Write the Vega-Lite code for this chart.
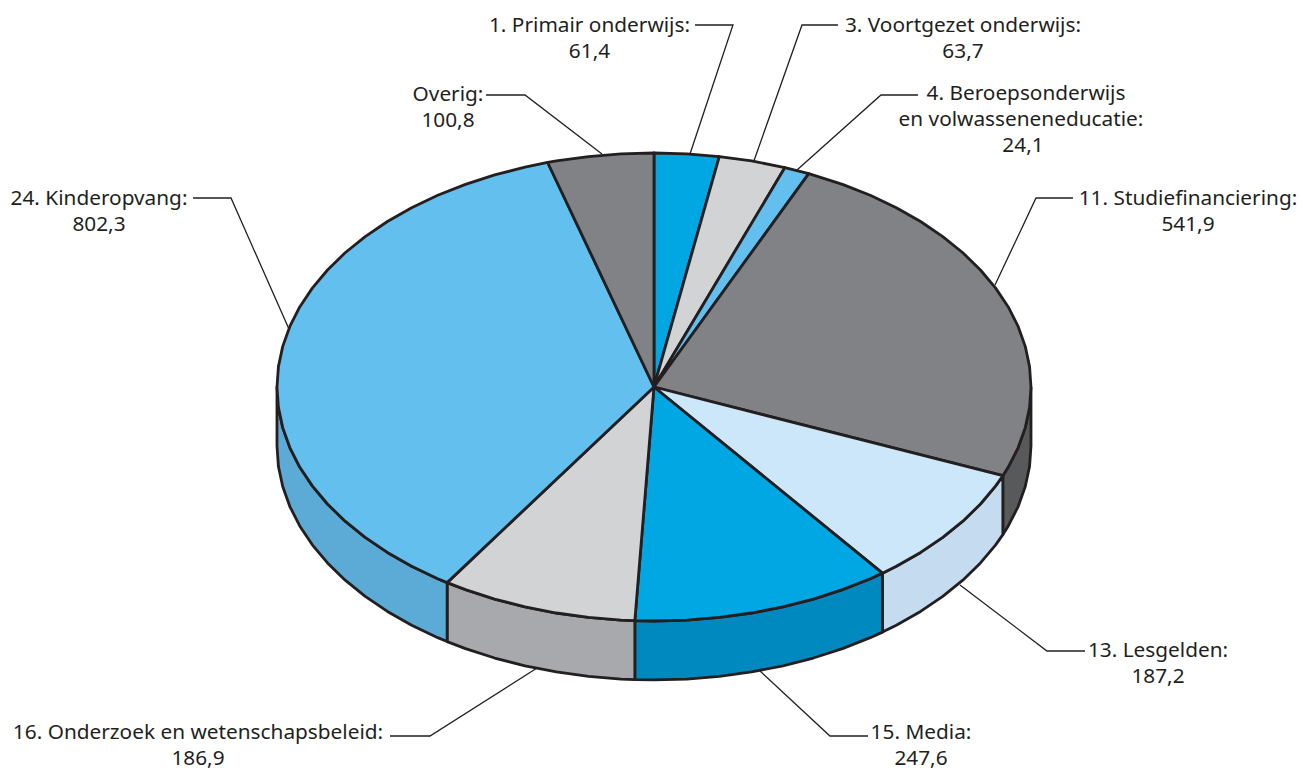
{"$schema":"https://vega.github.io/schema/vega-lite/v6.json","width":1303,"height":770,"padding":0,"autosize":{"type":"fit","contains":"padding"},"background":"#ffffff","config":{"view":{"stroke":null}},
"datasets":{"faces":[
{"poly":"side 11","seq":0,"x":100,"y":0},{"poly":"side 11","seq":1,"x":99.62,"y":-8.72},{"poly":"side 11","seq":2,"x":98.48,"y":-17.36},{"poly":"side 11","seq":3,"x":96.59,"y":-25.88},{"poly":"side 11","seq":4,"x":93.97,"y":-34.2},{"poly":"side 11","seq":5,"x":92.53,"y":-37.91},{"poly":"side 11","seq":6,"x":92.53,"y":-63.11},{"poly":"side 11","seq":7,"x":93.97,"y":-59.4},{"poly":"side 11","seq":8,"x":96.59,"y":-51.08},{"poly":"side 11","seq":9,"x":98.48,"y":-42.56},{"poly":"side 11","seq":10,"x":99.62,"y":-33.92},{"poly":"side 11","seq":11,"x":100,"y":-25.2},{"poly":"side 11","seq":12,"x":100,"y":0},
{"poly":"side 13","seq":0,"x":92.53,"y":-37.91},{"poly":"side 13","seq":1,"x":90.63,"y":-42.26},{"poly":"side 13","seq":2,"x":86.6,"y":-50},{"poly":"side 13","seq":3,"x":81.92,"y":-57.36},{"poly":"side 13","seq":4,"x":76.6,"y":-64.28},{"poly":"side 13","seq":5,"x":70.71,"y":-70.71},{"poly":"side 13","seq":6,"x":64.28,"y":-76.6},{"poly":"side 13","seq":7,"x":60.6,"y":-79.55},{"poly":"side 13","seq":8,"x":60.6,"y":-104.75},{"poly":"side 13","seq":9,"x":64.28,"y":-101.8},{"poly":"side 13","seq":10,"x":70.71,"y":-95.91},{"poly":"side 13","seq":11,"x":76.6,"y":-89.48},{"poly":"side 13","seq":12,"x":81.92,"y":-82.56},{"poly":"side 13","seq":13,"x":86.6,"y":-75.2},{"poly":"side 13","seq":14,"x":90.63,"y":-67.46},{"poly":"side 13","seq":15,"x":92.53,"y":-63.11},{"poly":"side 13","seq":16,"x":92.53,"y":-37.91},
{"poly":"side 15","seq":0,"x":60.6,"y":-79.55},{"poly":"side 15","seq":1,"x":57.36,"y":-81.92},{"poly":"side 15","seq":2,"x":50,"y":-86.6},{"poly":"side 15","seq":3,"x":42.26,"y":-90.63},{"poly":"side 15","seq":4,"x":34.2,"y":-93.97},{"poly":"side 15","seq":5,"x":25.88,"y":-96.59},{"poly":"side 15","seq":6,"x":17.36,"y":-98.48},{"poly":"side 15","seq":7,"x":8.72,"y":-99.62},{"poly":"side 15","seq":8,"x":0,"y":-100},{"poly":"side 15","seq":9,"x":-5.08,"y":-99.87},{"poly":"side 15","seq":10,"x":-5.08,"y":-125.07},{"poly":"side 15","seq":11,"x":0,"y":-125.2},{"poly":"side 15","seq":12,"x":8.72,"y":-124.82},{"poly":"side 15","seq":13,"x":17.36,"y":-123.68},{"poly":"side 15","seq":14,"x":25.88,"y":-121.79},{"poly":"side 15","seq":15,"x":34.2,"y":-119.17},{"poly":"side 15","seq":16,"x":42.26,"y":-115.83},{"poly":"side 15","seq":17,"x":50,"y":-111.8},{"poly":"side 15","seq":18,"x":57.36,"y":-107.12},{"poly":"side 15","seq":19,"x":60.6,"y":-104.75},{"poly":"side 15","seq":20,"x":60.6,"y":-79.55},
{"poly":"side 16","seq":0,"x":-5.08,"y":-99.87},{"poly":"side 16","seq":1,"x":-8.72,"y":-99.62},{"poly":"side 16","seq":2,"x":-17.36,"y":-98.48},{"poly":"side 16","seq":3,"x":-25.88,"y":-96.59},{"poly":"side 16","seq":4,"x":-34.2,"y":-93.97},{"poly":"side 16","seq":5,"x":-42.26,"y":-90.63},{"poly":"side 16","seq":6,"x":-50,"y":-86.6},{"poly":"side 16","seq":7,"x":-54.87,"y":-83.6},{"poly":"side 16","seq":8,"x":-54.87,"y":-108.8},{"poly":"side 16","seq":9,"x":-50,"y":-111.8},{"poly":"side 16","seq":10,"x":-42.26,"y":-115.83},{"poly":"side 16","seq":11,"x":-34.2,"y":-119.17},{"poly":"side 16","seq":12,"x":-25.88,"y":-121.79},{"poly":"side 16","seq":13,"x":-17.36,"y":-123.68},{"poly":"side 16","seq":14,"x":-8.72,"y":-124.82},{"poly":"side 16","seq":15,"x":-5.08,"y":-125.07},{"poly":"side 16","seq":16,"x":-5.08,"y":-99.87},
{"poly":"side 24","seq":0,"x":-54.87,"y":-83.6},{"poly":"side 24","seq":1,"x":-57.36,"y":-81.92},{"poly":"side 24","seq":2,"x":-64.28,"y":-76.6},{"poly":"side 24","seq":3,"x":-70.71,"y":-70.71},{"poly":"side 24","seq":4,"x":-76.6,"y":-64.28},{"poly":"side 24","seq":5,"x":-81.92,"y":-57.36},{"poly":"side 24","seq":6,"x":-86.6,"y":-50},{"poly":"side 24","seq":7,"x":-90.63,"y":-42.26},{"poly":"side 24","seq":8,"x":-93.97,"y":-34.2},{"poly":"side 24","seq":9,"x":-96.59,"y":-25.88},{"poly":"side 24","seq":10,"x":-98.48,"y":-17.36},{"poly":"side 24","seq":11,"x":-99.62,"y":-8.72},{"poly":"side 24","seq":12,"x":-100,"y":0},{"poly":"side 24","seq":13,"x":-100,"y":-25.2},{"poly":"side 24","seq":14,"x":-99.62,"y":-33.92},{"poly":"side 24","seq":15,"x":-98.48,"y":-42.56},{"poly":"side 24","seq":16,"x":-96.59,"y":-51.08},{"poly":"side 24","seq":17,"x":-93.97,"y":-59.4},{"poly":"side 24","seq":18,"x":-90.63,"y":-67.46},{"poly":"side 24","seq":19,"x":-86.6,"y":-75.2},{"poly":"side 24","seq":20,"x":-81.92,"y":-82.56},{"poly":"side 24","seq":21,"x":-76.6,"y":-89.48},{"poly":"side 24","seq":22,"x":-70.71,"y":-95.91},{"poly":"side 24","seq":23,"x":-64.28,"y":-101.8},{"poly":"side 24","seq":24,"x":-57.36,"y":-107.12},{"poly":"side 24","seq":25,"x":-54.87,"y":-108.8},{"poly":"side 24","seq":26,"x":-54.87,"y":-83.6},
{"poly":"top 1","seq":0,"x":0,"y":0},{"poly":"top 1","seq":1,"x":0,"y":100},{"poly":"top 1","seq":2,"x":8.72,"y":99.62},{"poly":"top 1","seq":3,"x":17.32,"y":98.49},{"poly":"top 1","seq":4,"x":0,"y":0},
{"poly":"top 3","seq":0,"x":0,"y":0},{"poly":"top 3","seq":1,"x":17.32,"y":98.49},{"poly":"top 3","seq":2,"x":25.88,"y":96.59},{"poly":"top 3","seq":3,"x":34.73,"y":93.78},{"poly":"top 3","seq":4,"x":0,"y":0},
{"poly":"top 4","seq":0,"x":0,"y":0},{"poly":"top 4","seq":1,"x":34.73,"y":93.78},{"poly":"top 4","seq":2,"x":41.05,"y":91.18},{"poly":"top 4","seq":3,"x":0,"y":0},
{"poly":"top 11","seq":0,"x":0,"y":0},{"poly":"top 11","seq":1,"x":41.05,"y":91.18},{"poly":"top 11","seq":2,"x":50,"y":86.6},{"poly":"top 11","seq":3,"x":57.36,"y":81.92},{"poly":"top 11","seq":4,"x":64.28,"y":76.6},{"poly":"top 11","seq":5,"x":70.71,"y":70.71},{"poly":"top 11","seq":6,"x":76.6,"y":64.28},{"poly":"top 11","seq":7,"x":81.92,"y":57.36},{"poly":"top 11","seq":8,"x":86.6,"y":50},{"poly":"top 11","seq":9,"x":90.63,"y":42.26},{"poly":"top 11","seq":10,"x":93.97,"y":34.2},{"poly":"top 11","seq":11,"x":96.59,"y":25.88},{"poly":"top 11","seq":12,"x":98.48,"y":17.36},{"poly":"top 11","seq":13,"x":99.62,"y":8.72},{"poly":"top 11","seq":14,"x":100,"y":0},{"poly":"top 11","seq":15,"x":99.62,"y":-8.72},{"poly":"top 11","seq":16,"x":98.48,"y":-17.36},{"poly":"top 11","seq":17,"x":96.59,"y":-25.88},{"poly":"top 11","seq":18,"x":93.97,"y":-34.2},{"poly":"top 11","seq":19,"x":92.53,"y":-37.91},{"poly":"top 11","seq":20,"x":0,"y":0},
{"poly":"top 13","seq":0,"x":0,"y":0},{"poly":"top 13","seq":1,"x":92.53,"y":-37.91},{"poly":"top 13","seq":2,"x":90.63,"y":-42.26},{"poly":"top 13","seq":3,"x":86.6,"y":-50},{"poly":"top 13","seq":4,"x":81.92,"y":-57.36},{"poly":"top 13","seq":5,"x":76.6,"y":-64.28},{"poly":"top 13","seq":6,"x":70.71,"y":-70.71},{"poly":"top 13","seq":7,"x":64.28,"y":-76.6},{"poly":"top 13","seq":8,"x":60.6,"y":-79.55},{"poly":"top 13","seq":9,"x":0,"y":0},
{"poly":"top 15","seq":0,"x":0,"y":0},{"poly":"top 15","seq":1,"x":60.6,"y":-79.55},{"poly":"top 15","seq":2,"x":57.36,"y":-81.92},{"poly":"top 15","seq":3,"x":50,"y":-86.6},{"poly":"top 15","seq":4,"x":42.26,"y":-90.63},{"poly":"top 15","seq":5,"x":34.2,"y":-93.97},{"poly":"top 15","seq":6,"x":25.88,"y":-96.59},{"poly":"top 15","seq":7,"x":17.36,"y":-98.48},{"poly":"top 15","seq":8,"x":8.72,"y":-99.62},{"poly":"top 15","seq":9,"x":0,"y":-100},{"poly":"top 15","seq":10,"x":-5.08,"y":-99.87},{"poly":"top 15","seq":11,"x":0,"y":0},
{"poly":"top 16","seq":0,"x":0,"y":0},{"poly":"top 16","seq":1,"x":-5.08,"y":-99.87},{"poly":"top 16","seq":2,"x":-8.72,"y":-99.62},{"poly":"top 16","seq":3,"x":-17.36,"y":-98.48},{"poly":"top 16","seq":4,"x":-25.88,"y":-96.59},{"poly":"top 16","seq":5,"x":-34.2,"y":-93.97},{"poly":"top 16","seq":6,"x":-42.26,"y":-90.63},{"poly":"top 16","seq":7,"x":-50,"y":-86.6},{"poly":"top 16","seq":8,"x":-54.87,"y":-83.6},{"poly":"top 16","seq":9,"x":0,"y":0},
{"poly":"top 24","seq":0,"x":0,"y":0},{"poly":"top 24","seq":1,"x":-54.87,"y":-83.6},{"poly":"top 24","seq":2,"x":-57.36,"y":-81.92},{"poly":"top 24","seq":3,"x":-64.28,"y":-76.6},{"poly":"top 24","seq":4,"x":-70.71,"y":-70.71},{"poly":"top 24","seq":5,"x":-76.6,"y":-64.28},{"poly":"top 24","seq":6,"x":-81.92,"y":-57.36},{"poly":"top 24","seq":7,"x":-86.6,"y":-50},{"poly":"top 24","seq":8,"x":-90.63,"y":-42.26},{"poly":"top 24","seq":9,"x":-93.97,"y":-34.2},{"poly":"top 24","seq":10,"x":-96.59,"y":-25.88},{"poly":"top 24","seq":11,"x":-98.48,"y":-17.36},{"poly":"top 24","seq":12,"x":-99.62,"y":-8.72},{"poly":"top 24","seq":13,"x":-100,"y":0},{"poly":"top 24","seq":14,"x":-99.62,"y":8.72},{"poly":"top 24","seq":15,"x":-98.48,"y":17.36},{"poly":"top 24","seq":16,"x":-96.59,"y":25.88},{"poly":"top 24","seq":17,"x":-93.97,"y":34.2},{"poly":"top 24","seq":18,"x":-90.63,"y":42.26},{"poly":"top 24","seq":19,"x":-86.6,"y":50},{"poly":"top 24","seq":20,"x":-81.92,"y":57.36},{"poly":"top 24","seq":21,"x":-76.6,"y":64.28},{"poly":"top 24","seq":22,"x":-70.71,"y":70.71},{"poly":"top 24","seq":23,"x":-64.28,"y":76.6},{"poly":"top 24","seq":24,"x":-57.36,"y":81.92},{"poly":"top 24","seq":25,"x":-50,"y":86.6},{"poly":"top 24","seq":26,"x":-42.26,"y":90.63},{"poly":"top 24","seq":27,"x":-34.2,"y":93.97},{"poly":"top 24","seq":28,"x":-28.2,"y":95.94},{"poly":"top 24","seq":29,"x":0,"y":0},
{"poly":"top overig","seq":0,"x":0,"y":0},{"poly":"top overig","seq":1,"x":-28.2,"y":95.94},{"poly":"top overig","seq":2,"x":-25.88,"y":96.59},{"poly":"top overig","seq":3,"x":-17.36,"y":98.48},{"poly":"top overig","seq":4,"x":-8.72,"y":99.62},{"poly":"top overig","seq":5,"x":0,"y":100},{"poly":"top overig","seq":6,"x":0,"y":0}
],
"leaders":[
{"id":"1","seq":0,"x":10.88,"y":154.7},{"id":"1","seq":1,"x":20.95,"y":154.7},{"id":"1","seq":2,"x":9.55,"y":99.57},
{"id":"3","seq":0,"x":48.81,"y":154.7},{"id":"3","seq":1,"x":39.26,"y":154.7},{"id":"3","seq":2,"x":26.5,"y":96.6},
{"id":"4","seq":0,"x":70.03,"y":124.79},{"id":"4","seq":1,"x":60.21,"y":124.79},{"id":"4","seq":2,"x":37.93,"y":92.74},
{"id":"11","seq":0,"x":111.14,"y":80.77},{"id":"11","seq":1,"x":101.33,"y":80.77},{"id":"11","seq":2,"x":90.45,"y":43.59},
{"id":"13","seq":0,"x":114.32,"y":-112.82},{"id":"13","seq":1,"x":104.24,"y":-112.82},{"id":"13","seq":2,"x":81.17,"y":-84.62},
{"id":"15","seq":0,"x":56.76,"y":-149.15},{"id":"15","seq":1,"x":46.68,"y":-149.15},{"id":"15","seq":2,"x":28.12,"y":-121.37},
{"id":"16","seq":0,"x":-70.03,"y":-149.15},{"id":"16","seq":1,"x":-59.42,"y":-149.15},{"id":"16","seq":2,"x":-31.03,"y":-120.09},
{"id":"24","seq":0,"x":-122.28,"y":80.77},{"id":"24","seq":1,"x":-112.2,"y":80.77},{"id":"24","seq":2,"x":-96.82,"y":24.79},
{"id":"overig","seq":0,"x":-44.56,"y":124.79},{"id":"overig","seq":1,"x":-34.22,"y":124.79},{"id":"overig","seq":2,"x":-13.79,"y":99.57}
],
"labels":[
{"text":"1. Primair onderwijs:","x":-17.11,"y":154.7},{"text":"61,4","x":-17.11,"y":143.59},
{"text":"3. Voortgezet onderwijs:","x":81.96,"y":154.7},{"text":"63,7","x":81.96,"y":143.59},
{"text":"4. Beroepsonderwijs","x":98.67,"y":125.64},{"text":"en volwasseneneducatie:","x":97.35,"y":114.53},{"text":"24,1","x":97.88,"y":103.42},
{"text":"11. Studiefinanciering:","x":141.64,"y":80.77},{"text":"541,9","x":141.64,"y":69.66},
{"text":"13. Lesgelden:","x":133.69,"y":-112.39},{"text":"187,2","x":133.69,"y":-123.51},
{"text":"15. Media:","x":70.82,"y":-147.65},{"text":"247,6","x":70.82,"y":-158.76},
{"text":"16. Onderzoek en wetenschapsbeleid:","x":-120.95,"y":-147.65},{"text":"186,9","x":-120.95,"y":-158.76},
{"text":"24. Kinderopvang:","x":-147.21,"y":80.77},{"text":"802,3","x":-147.21,"y":69.66},
{"text":"Overig:","x":-54.64,"y":125.21},{"text":"100,8","x":-54.64,"y":114.1}
]},
"layer":[
{"data":{"name":"leaders"},"mark":{"type":"line","stroke":"#231f20","strokeWidth":1.3,"strokeJoin":"miter","clip":false},"encoding":{"x":{"field":"x","type":"quantitative","axis":null,"scale":{"domain":[-173.47,172.15],"nice":false,"zero":false}},"y":{"field":"y","type":"quantitative","axis":null,"scale":{"domain":[-163.68,165.38],"nice":false,"zero":false}},"detail":{"field":"id"},"order":{"field":"seq"}}},
{"data":{"name":"faces"},"mark":{"type":"line","filled":true,"stroke":"#231f20","strokeWidth":2.8,"strokeJoin":"round"},"encoding":{"x":{"field":"x","type":"quantitative","axis":null,"scale":{"domain":[-173.47,172.15],"nice":false,"zero":false}},"y":{"field":"y","type":"quantitative","axis":null,"scale":{"domain":[-163.68,165.38],"nice":false,"zero":false}},"order":{"field":"seq"},"fill":{"field":"poly","type":"nominal","legend":null,"sort":null,"scale":{"domain":["side 11","side 13","side 15","side 16","side 24","top 1","top 3","top 4","top 11","top 13","top 15","top 16","top 24","top overig"],"range":["#58595b","#c5dcf0","#0089bf","#a7a9ac","#5babd6","#00a7e3","#d1d3d4","#63bfee","#808285","#cce7f9","#00a7e3","#d1d3d4","#63bfee","#808285"]}}}},
{"data":{"name":"labels"},"mark":{"type":"text","font":"Noto Sans","fontSize":20.8,"fill":"#231f20","align":"center","baseline":"middle","dy":1},"encoding":{"x":{"field":"x","type":"quantitative","axis":null,"scale":{"domain":[-173.47,172.15],"nice":false,"zero":false}},"y":{"field":"y","type":"quantitative","axis":null,"scale":{"domain":[-163.68,165.38],"nice":false,"zero":false}},"text":{"field":"text","type":"nominal"}}}
]}
